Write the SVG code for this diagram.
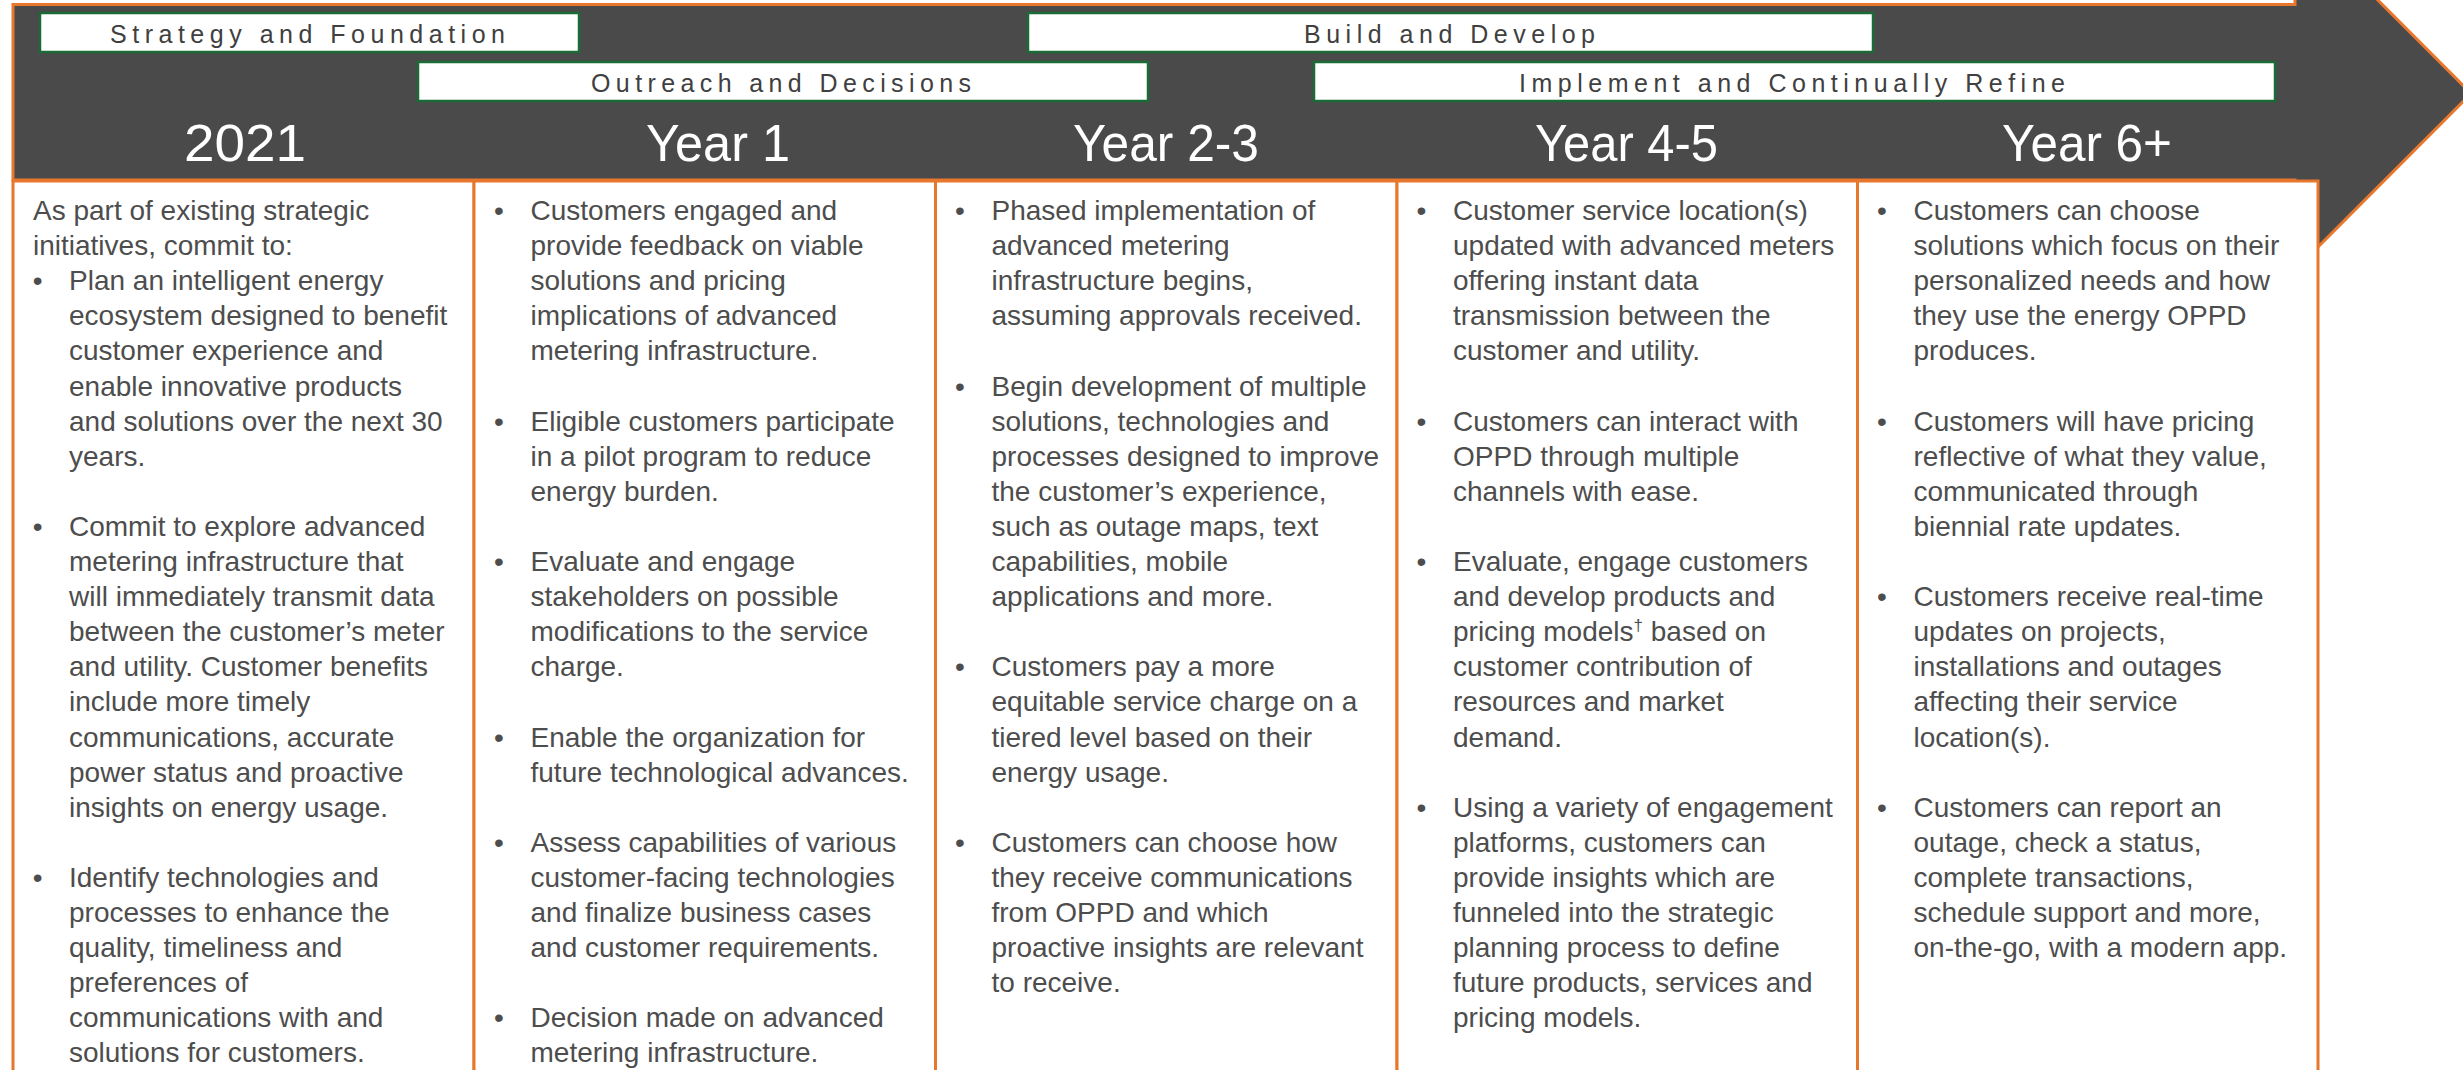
<svg xmlns="http://www.w3.org/2000/svg" width="2463" height="1070" viewBox="0 0 2463 1070">
<style>
.arrow{fill:#4a4a4a;stroke:#E8772E;stroke-width:3;stroke-linejoin:miter}
.col{fill:#fff;stroke:#E8772E;stroke-width:3}
.lbl{fill:#fff;stroke:#1B6B36;stroke-width:2.5}
.lt{font-family:"Liberation Sans Narrow","Liberation Sans",Arial,sans-serif;font-size:25px;fill:#404040}
.yr{font-family:"Liberation Sans Narrow","Liberation Sans",Arial,sans-serif;font-size:52px;fill:#fff}
.bt{font-family:"Liberation Sans",Arial,sans-serif;font-size:28px;fill:#4d4d4d}
</style>
<rect width="2463" height="1070" fill="#fff"/>
<g id="timeline-arrow">
<polygon class="arrow" points="13,4.5 2295,4.5 2295,-83 2471,93.5 2295,270 2295,180 13,180"/>
</g>
<g id="connectors"></g>
<g id="label-strategy">
<rect class="lbl" x="40" y="13" width="539" height="39"/>
<text class="lt" x="110" y="43" textLength="395" lengthAdjust="spacing">Strategy and Foundation</text>
</g>
<g id="label-outreach">
<rect class="lbl" x="418" y="62" width="730" height="39"/>
<text class="lt" x="591" y="92" textLength="380" lengthAdjust="spacing">Outreach and Decisions</text>
</g>
<g id="label-build">
<rect class="lbl" x="1028" y="13" width="845" height="39"/>
<text class="lt" x="1304" y="43" textLength="291" lengthAdjust="spacing">Build and Develop</text>
</g>
<g id="label-implement">
<rect class="lbl" x="1314" y="62" width="961" height="39"/>
<text class="lt" x="1519" y="92" textLength="546" lengthAdjust="spacing">Implement and Continually Refine</text>
</g>
<g id="col-2021">
<rect class="col" x="13" y="181" width="461" height="1000"/>
<text class="yr" x="184" y="160.5" textLength="122" lengthAdjust="spacingAndGlyphs">2021</text>
<text class="bt">
<tspan x="33" y="220">As part of existing strategic</tspan>
<tspan x="33" y="255.1">initiatives, commit to:</tspan>
<tspan x="32.7" y="290.2">•</tspan><tspan x="69" y="290.2">Plan an intelligent energy</tspan>
<tspan x="69" y="325.3">ecosystem designed to benefit</tspan>
<tspan x="69" y="360.4">customer experience and</tspan>
<tspan x="69" y="395.5">enable innovative products</tspan>
<tspan x="69" y="430.6">and solutions over the next 30</tspan>
<tspan x="69" y="465.7">years.</tspan>
<tspan x="32.7" y="535.9">•</tspan><tspan x="69" y="535.9">Commit to explore advanced</tspan>
<tspan x="69" y="571">metering infrastructure that</tspan>
<tspan x="69" y="606.1">will immediately transmit data</tspan>
<tspan x="69" y="641.2">between the customer’s meter</tspan>
<tspan x="69" y="676.3">and utility. Customer benefits</tspan>
<tspan x="69" y="711.4">include more timely</tspan>
<tspan x="69" y="746.5">communications, accurate</tspan>
<tspan x="69" y="781.6">power status and proactive</tspan>
<tspan x="69" y="816.7">insights on energy usage.</tspan>
<tspan x="32.7" y="886.9">•</tspan><tspan x="69" y="886.9">Identify technologies and</tspan>
<tspan x="69" y="922">processes to enhance the</tspan>
<tspan x="69" y="957.1">quality, timeliness and</tspan>
<tspan x="69" y="992.2">preferences of</tspan>
<tspan x="69" y="1027.3">communications with and</tspan>
<tspan x="69" y="1062.4">solutions for customers.</tspan>
</text>
</g>
<g id="col-year1">
<rect class="col" x="474" y="181" width="461.5" height="1000"/>
<text class="yr" x="646" y="160.5" textLength="144" lengthAdjust="spacingAndGlyphs">Year 1</text>
<text class="bt">
<tspan x="494" y="220">•</tspan><tspan x="530.5" y="220">Customers engaged and</tspan>
<tspan x="530.5" y="255.1">provide feedback on viable</tspan>
<tspan x="530.5" y="290.2">solutions and pricing</tspan>
<tspan x="530.5" y="325.3">implications of advanced</tspan>
<tspan x="530.5" y="360.4">metering infrastructure.</tspan>
<tspan x="494" y="430.6">•</tspan><tspan x="530.5" y="430.6">Eligible customers participate</tspan>
<tspan x="530.5" y="465.7">in a pilot program to reduce</tspan>
<tspan x="530.5" y="500.8">energy burden.</tspan>
<tspan x="494" y="571">•</tspan><tspan x="530.5" y="571">Evaluate and engage</tspan>
<tspan x="530.5" y="606.1">stakeholders on possible</tspan>
<tspan x="530.5" y="641.2">modifications to the service</tspan>
<tspan x="530.5" y="676.3">charge.</tspan>
<tspan x="494" y="746.5">•</tspan><tspan x="530.5" y="746.5">Enable the organization for</tspan>
<tspan x="530.5" y="781.6">future technological advances.</tspan>
<tspan x="494" y="851.8">•</tspan><tspan x="530.5" y="851.8">Assess capabilities of various</tspan>
<tspan x="530.5" y="886.9">customer-facing technologies</tspan>
<tspan x="530.5" y="922">and finalize business cases</tspan>
<tspan x="530.5" y="957.1">and customer requirements.</tspan>
<tspan x="494" y="1027.3">•</tspan><tspan x="530.5" y="1027.3">Decision made on advanced</tspan>
<tspan x="530.5" y="1062.4">metering infrastructure.</tspan>
</text>
</g>
<g id="col-year2-3">
<rect class="col" x="935.5" y="181" width="461.5" height="1000"/>
<text class="yr" x="1073" y="160.5" textLength="186" lengthAdjust="spacingAndGlyphs">Year 2-3</text>
<text class="bt">
<tspan x="955" y="220">•</tspan><tspan x="991.5" y="220">Phased implementation of</tspan>
<tspan x="991.5" y="255.1">advanced metering</tspan>
<tspan x="991.5" y="290.2">infrastructure begins,</tspan>
<tspan x="991.5" y="325.3">assuming approvals received.</tspan>
<tspan x="955" y="395.5">•</tspan><tspan x="991.5" y="395.5">Begin development of multiple</tspan>
<tspan x="991.5" y="430.6">solutions, technologies and</tspan>
<tspan x="991.5" y="465.7">processes designed to improve</tspan>
<tspan x="991.5" y="500.8">the customer’s experience,</tspan>
<tspan x="991.5" y="535.9">such as outage maps, text</tspan>
<tspan x="991.5" y="571">capabilities, mobile</tspan>
<tspan x="991.5" y="606.1">applications and more.</tspan>
<tspan x="955" y="676.3">•</tspan><tspan x="991.5" y="676.3">Customers pay a more</tspan>
<tspan x="991.5" y="711.4">equitable service charge on a</tspan>
<tspan x="991.5" y="746.5">tiered level based on their</tspan>
<tspan x="991.5" y="781.6">energy usage.</tspan>
<tspan x="955" y="851.8">•</tspan><tspan x="991.5" y="851.8">Customers can choose how</tspan>
<tspan x="991.5" y="886.9">they receive communications</tspan>
<tspan x="991.5" y="922">from OPPD and which</tspan>
<tspan x="991.5" y="957.1">proactive insights are relevant</tspan>
<tspan x="991.5" y="992.2">to receive.</tspan>
</text>
</g>
<g id="col-year4-5">
<rect class="col" x="1397" y="181" width="460.5" height="1000"/>
<text class="yr" x="1535" y="160.5" textLength="183" lengthAdjust="spacingAndGlyphs">Year 4-5</text>
<text class="bt">
<tspan x="1416.5" y="220">•</tspan><tspan x="1453" y="220">Customer service location(s)</tspan>
<tspan x="1453" y="255.1">updated with advanced meters</tspan>
<tspan x="1453" y="290.2">offering instant data</tspan>
<tspan x="1453" y="325.3">transmission between the</tspan>
<tspan x="1453" y="360.4">customer and utility.</tspan>
<tspan x="1416.5" y="430.6">•</tspan><tspan x="1453" y="430.6">Customers can interact with</tspan>
<tspan x="1453" y="465.7">OPPD through multiple</tspan>
<tspan x="1453" y="500.8">channels with ease.</tspan>
<tspan x="1416.5" y="571">•</tspan><tspan x="1453" y="571">Evaluate, engage customers</tspan>
<tspan x="1453" y="606.1">and develop products and</tspan>
<tspan x="1453" y="641.2">pricing models<tspan font-size="17" dy="-10">†</tspan><tspan dy="10"> based on</tspan></tspan>
<tspan x="1453" y="676.3">customer contribution of</tspan>
<tspan x="1453" y="711.4">resources and market</tspan>
<tspan x="1453" y="746.5">demand.</tspan>
<tspan x="1416.5" y="816.7">•</tspan><tspan x="1453" y="816.7">Using a variety of engagement</tspan>
<tspan x="1453" y="851.8">platforms, customers can</tspan>
<tspan x="1453" y="886.9">provide insights which are</tspan>
<tspan x="1453" y="922">funneled into the strategic</tspan>
<tspan x="1453" y="957.1">planning process to define</tspan>
<tspan x="1453" y="992.2">future products, services and</tspan>
<tspan x="1453" y="1027.3">pricing models.</tspan>
</text>
</g>
<g id="col-year6">
<rect class="col" x="1857.5" y="181" width="460.5" height="1000"/>
<text class="yr" x="2002" y="160.5" textLength="170" lengthAdjust="spacingAndGlyphs">Year 6+</text>
<text class="bt">
<tspan x="1877" y="220">•</tspan><tspan x="1913.5" y="220">Customers can choose</tspan>
<tspan x="1913.5" y="255.1">solutions which focus on their</tspan>
<tspan x="1913.5" y="290.2">personalized needs and how</tspan>
<tspan x="1913.5" y="325.3">they use the energy OPPD</tspan>
<tspan x="1913.5" y="360.4">produces.</tspan>
<tspan x="1877" y="430.6">•</tspan><tspan x="1913.5" y="430.6">Customers will have pricing</tspan>
<tspan x="1913.5" y="465.7">reflective of what they value,</tspan>
<tspan x="1913.5" y="500.8">communicated through</tspan>
<tspan x="1913.5" y="535.9">biennial rate updates.</tspan>
<tspan x="1877" y="606.1">•</tspan><tspan x="1913.5" y="606.1">Customers receive real-time</tspan>
<tspan x="1913.5" y="641.2">updates on projects,</tspan>
<tspan x="1913.5" y="676.3">installations and outages</tspan>
<tspan x="1913.5" y="711.4">affecting their service</tspan>
<tspan x="1913.5" y="746.5">location(s).</tspan>
<tspan x="1877" y="816.7">•</tspan><tspan x="1913.5" y="816.7">Customers can report an</tspan>
<tspan x="1913.5" y="851.8">outage, check a status,</tspan>
<tspan x="1913.5" y="886.9">complete transactions,</tspan>
<tspan x="1913.5" y="922">schedule support and more,</tspan>
<tspan x="1913.5" y="957.1">on-the-go, with a modern app.</tspan>
</text>
</g>
</svg>
